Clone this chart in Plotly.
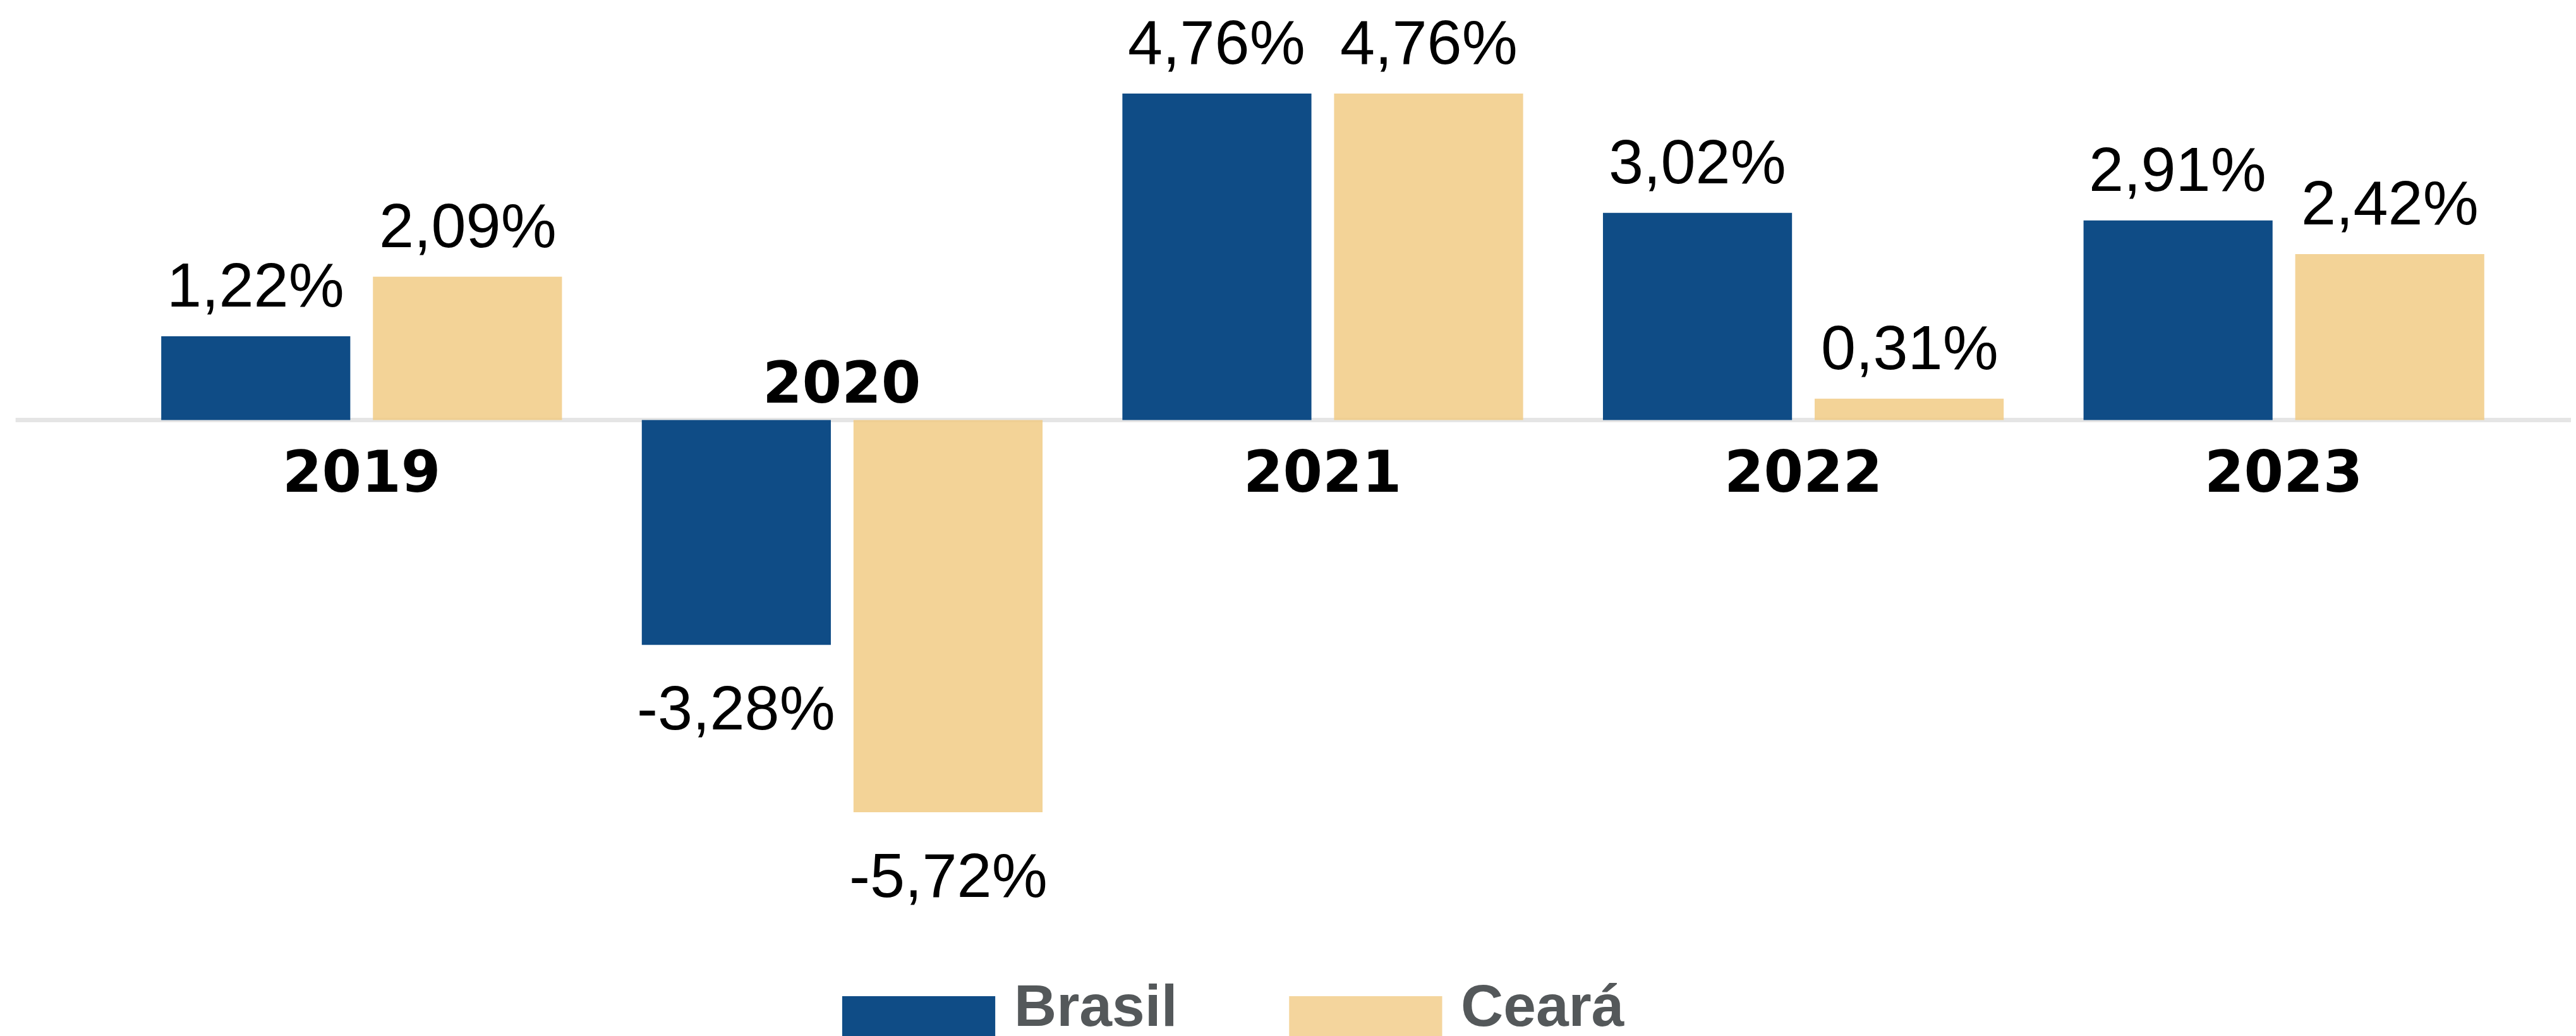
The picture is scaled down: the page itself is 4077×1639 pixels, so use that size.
import plotly.graph_objects as go

anos = ["2019", "2020", "2021", "2022", "2023"]
brasil = [1.22, -3.28, 4.76, 3.02, 2.91]
ceara = [2.09, -5.72, 4.76, 0.31, 2.42]

cor_brasil = "#0F4C86"
cor_ceara = "#F1CB85"

W, H = 4077, 1639
ml, mr, mt, mb = 184, 90, 12, 187
fonte = "Liberation Sans"


def fmt(v):
    return f"{v:.2f}%".replace(".", ",")


fig = go.Figure()
fig.add_trace(go.Bar(x=anos, y=brasil, name="Brasil", marker=dict(color=cor_brasil, line=dict(width=0))))
fig.add_trace(go.Bar(x=anos, y=ceara, name="Ceará", marker=dict(color=cor_ceara, line=dict(width=0)), opacity=0.85))

# linha do zero, mais larga que a área do gráfico
fig.add_shape(type="line", xref="paper", yref="y", x0=-0.044, x1=1.03, y0=0, y1=0,
              line=dict(color="#E5E5E5", width=7), layer="below")

anns = []
desloc = 168  # px do centro da categoria ao centro de cada barra
# em eixo de categorias, anotações usam o índice da categoria
for i, (vb, vc) in enumerate(zip(brasil, ceara)):
    for v, dx in ((vb, -desloc), (vc, desloc)):
        pos = v >= 0
        anns.append(dict(x=i, y=v, xref="x", yref="y", text=fmt(v), showarrow=False,
                         xshift=dx, yshift=24 if pos else -42,
                         yanchor="bottom" if pos else "top",
                         font=dict(family=fonte, size=99, color="#000000")))
    pos = (vb + vc) >= 0
    anns.append(dict(x=i, y=0, xref="x", yref="y", text=f"<b>{anos[i]}</b>", showarrow=False,
                     yshift=-28 if pos else 4, yanchor="top" if pos else "bottom",
                     font=dict(family="DejaVu Sans", size=90, color="#000000")))

# legenda manual com retângulos largos
leg = [("Brasil", cor_brasil, 0.300), ("Ceará", "#F4D59D", 0.486)]
for nome, cor, x0 in leg:
    fig.add_shape(type="rect", xref="paper", yref="paper", x0=x0, x1=x0 + 0.0637,
                  y0=-0.1245, y1=-0.0806, fillcolor=cor, line=dict(width=0))
    anns.append(dict(x=x0 + 0.071, y=-0.091, xref="paper", yref="paper", text=f"<b>{nome}</b>",
                     showarrow=False, xanchor="left", yanchor="middle",
                     font=dict(family=fonte, size=93, color="#54585A")))

fig.update_layout(
    width=W, height=H,
    margin=dict(l=ml, r=mr, t=mt, b=mb, pad=0),
    plot_bgcolor="white", paper_bgcolor="white",
    barmode="group", bargap=0.119, bargroupgap=0.107,
    showlegend=False,
    annotations=anns,
    xaxis=dict(type="category", range=[-0.5, 4.5], showticklabels=False, showgrid=False,
               zeroline=False, showline=False, ticks=""),
    yaxis=dict(range=[-7.332, 5.94], showticklabels=False, showgrid=False, zeroline=False,
               showline=False, ticks=""),
)

fig.write_html("out.html")
